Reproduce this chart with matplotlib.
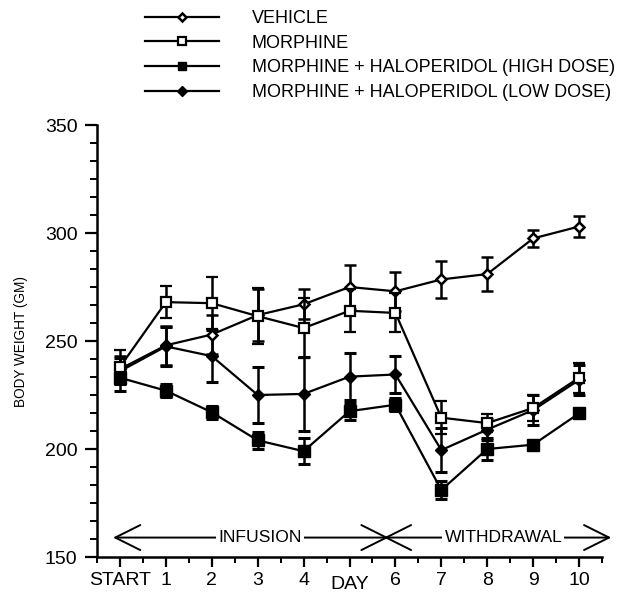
import matplotlib
matplotlib.use("Agg")
import matplotlib.pyplot as plt
import matplotlib.transforms as mtransforms
from matplotlib.ticker import MultipleLocator, AutoMinorLocator
import numpy as np

plt.rcParams['font.family'] = ['Liberation Sans', 'DejaVu Sans']

days = np.arange(11)
day_labels = ['START', '1', '2', '3', '4', 'DAY', '6', '7', '8', '9', '10']

vehicle = [237, 248, 253, 262, 267, 275, 273, 278.5, 281, 297.5, 303]
vehicle_err = [6, 9, 9, 12, 7, 10, 9, 8.5, 8, 4, 5]

morphine = [238, 268, 267.5, 261.5, 256, 264, 263, 214.5, 212, 219, 233]
morphine_err = [8, 7.5, 12, 13, 14, 10, 9, 7.5, 4, 6, 7]

high_dose = [233, 227, 217, 204, 199, 217.5, 220.5, 181, 200, 202, 216.5]
high_err = [6, 3, 3, 4, 6, 4, 3, 4, 5, 1, 1]

low_dose = [236, 247.5, 243, 225, 225.5, 233.5, 234.5, 199.5, 209, 218, 232]
low_err = [6, 9, 12, 13, 17, 11, 8.5, 10, 5, 7, 7]

labels = ['VEHICLE', 'MORPHINE', 'MORPHINE + HALOPERIDOL (HIGH DOSE)',
          'MORPHINE + HALOPERIDOL (LOW DOSE)']

fig = plt.figure(figsize=(6.3, 5.93), dpi=100)
ax = fig.add_axes([0.154, 0.0607, 0.8016, 0.7285])

common = dict(color='black', lw=1.6, elinewidth=1.8, capsize=4.5, capthick=2.2, clip_on=False)
c1 = ax.errorbar(days, vehicle, yerr=vehicle_err, marker='D', ms=5.5, mfc='white',
                 mec='black', mew=1.8, zorder=3, **common)
c2 = ax.errorbar(days, morphine, yerr=morphine_err, marker='s', ms=7, mfc='white',
                 mec='black', mew=1.6, zorder=4, **common)
c3 = ax.errorbar(days, high_dose, yerr=high_err, marker='s', ms=8, mfc='black',
                 mec='black', zorder=3, **common)
c4 = ax.errorbar(days, low_dose, yerr=low_err, marker='D', ms=6, mfc='black',
                 mec='black', zorder=3, **common)

fig.legend([c[0] for c in (c1, c2, c3, c4)], labels, loc='upper left',
           bbox_to_anchor=(0.219, 0.995), frameon=False, fontsize=13, markerscale=0.8,
           handlelength=4.1, handletextpad=1.8, labelspacing=0.42, borderaxespad=0)

ax.set_xlim(-0.5, 10.5)
ax.set_ylim(150, 350)
ax.set_xticks(days)
ax.set_xticklabels(day_labels)
ax.xaxis.set_minor_locator(MultipleLocator(0.5))
ax.set_yticks([150, 200, 250, 300, 350])
ax.yaxis.set_minor_locator(AutoMinorLocator(6))

for s in ['top', 'right']:
    ax.spines[s].set_visible(False)
for s in ['left', 'bottom']:
    ax.spines[s].set_linewidth(1.8)

ax.tick_params(axis='x', which='major', length=7, width=1.6, labelsize=14, pad=4)
ax.tick_params(axis='x', which='minor', length=4, width=1.4)
ax.tick_params(axis='y', which='major', length=9, width=1.6, labelsize=14, pad=5)
ax.tick_params(axis='y', which='minor', length=5, width=1.4)

day_lbl = ax.get_xticklabels()[5]
day_lbl.set_transform(day_lbl.get_transform() +
                      mtransforms.ScaledTranslation(0, -3 / 72, fig.dpi_scale_trans))

ax.set_ylabel('BODY WEIGHT (GM)', fontsize=9.8, labelpad=12)

# phase arrows
arrow_y = 159
astyle = dict(arrowstyle='<->,head_length=0.9,head_width=0.45', color='black', lw=1.4,
              shrinkA=0, shrinkB=0, mutation_scale=20)
ax.annotate('', xy=(-0.15, arrow_y), xytext=(5.85, arrow_y), arrowprops=astyle,
            annotation_clip=False)
ax.annotate('', xy=(5.75, arrow_y), xytext=(10.7, arrow_y), arrowprops=astyle,
            annotation_clip=False)
ax.text(3.05, arrow_y, 'INFUSION', fontsize=12.6, ha='center', va='center',
        bbox=dict(facecolor='white', edgecolor='none', pad=1.5), zorder=5)
ax.text(8.35, arrow_y, 'WITHDRAWAL', fontsize=12.6, ha='center', va='center',
        bbox=dict(facecolor='white', edgecolor='none', pad=1.5), zorder=5)

fig.savefig('out.png', dpi=100)
